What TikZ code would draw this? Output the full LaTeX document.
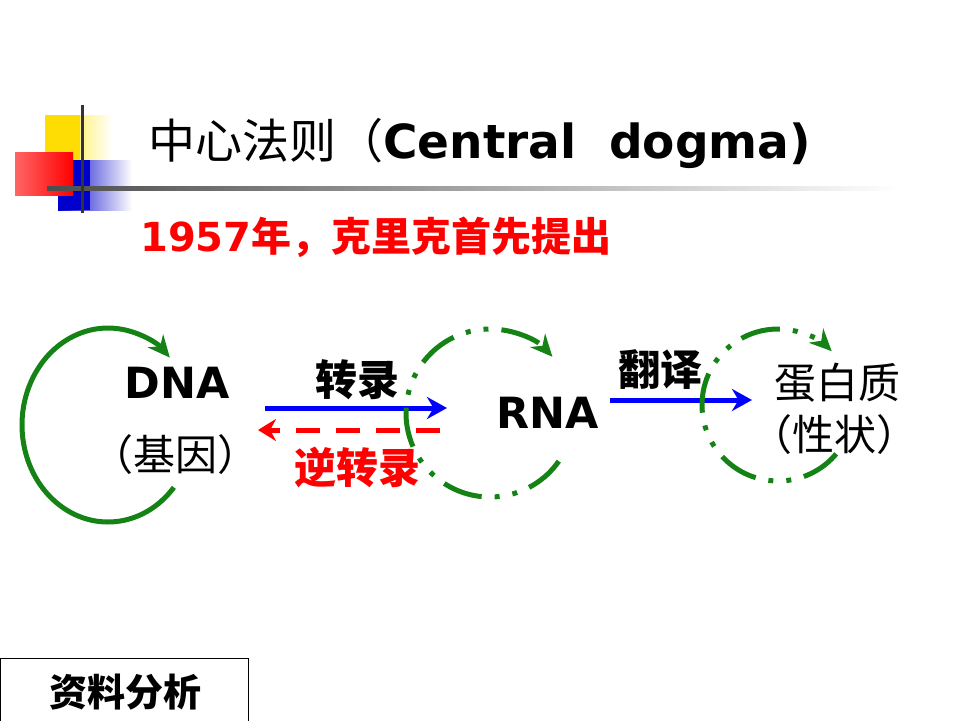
\documentclass[tikz,border=0pt]{standalone}
\usepackage{fontspec}
\setmainfont{DejaVu Sans}
\newfontfamily\cjk{Noto Sans CJK SC}
\usetikzlibrary{arrows.meta,shadings}
\definecolor{dgreen}{RGB}{20,130,20}
\begin{document}
\begin{tikzpicture}[x=1pt,y=-1pt,
  loop/.style={dgreen,line width=5pt,-{Stealth[length=22pt,width=20pt]}},
  dd/.style={loop,dash pattern=on 40pt off 13pt on 5pt off 13pt on 5pt off 13pt},
  txt/.style={font=\cjk\fontsize{42}{46}\selectfont,inner sep=0pt}]
\useasboundingbox (0,0) rectangle (960,720);
% decoration
\shade[left color=yellow!80!orange,right color=white] (45,115) rectangle (112,160);
\fill[yellow!80!orange] (45,115) rectangle (80,160);
\shade[left color=blue!80!black,right color=white] (58,160) rectangle (132,210);
\fill[blue!80!black] (58,160) rectangle (90,210);
\shade[left color=red!60!white,right color=red] (15,152) rectangle (73,195);
\shade[left color=black!70,right color=white] (47,186) rectangle (900,190);
\draw[black!80,line width=3pt] (82,105) -- (82,213);
% title
\node[anchor=west,inner sep=0pt] (title) at (148,143) {\fontsize{47}{52}\selectfont\cjk 中心法则（\textbf{\fontspec{DejaVu Sans}Central\ \ dogma)}};
\node[anchor=west,inner sep=0pt,text=red] (sub) at (140,237) {\fontsize{40}{44}\selectfont\bfseries 1957{\cjk 年，克里克首先提出}};
% labels
\node[inner sep=0pt] (dna) at (177,383) {\fontsize{43}{46}\selectfont\bfseries DNA};
\node[txt] (gene) at (175,455) {（基因）};
\node[inner sep=0pt] (rna) at (548,413) {\fontsize{43}{46}\selectfont\bfseries RNA};
\node[txt] (prot) at (837,383) {蛋白质};
\node[txt] (trait) at (834,435) {（性状）};
\node[txt] (tr) at (357,380) {\bfseries 转录};
\node[txt,text=red] (rtr) at (357,467) {\bfseries 逆转录};
\node[txt] (tl) at (660,370) {\bfseries 翻译};
% arrows
\coordinate (a1) at (265,408); \coordinate (a2) at (447,408);
\draw[blue,line width=5pt,-{Stealth[length=20pt,width=22pt]}] (a1) -- (a2);
\coordinate (b1) at (440,430); \coordinate (b2) at (258,430);
\draw[red,line width=5pt,dash pattern=on 24pt off 16pt,-{Stealth[length=18pt,width=22pt]}] (b1) -- (b2);
\coordinate (c1) at (610,400); \coordinate (c2) at (752,400);
\draw[blue,line width=5pt,-{Stealth[length=20pt,width=22pt]}] (c1) -- (c2);
% loops
\coordinate (dnaStart) at ({108+86*cos(40)},{425+97*sin(40)});
\draw[loop] (dnaStart) arc[start angle=40,end angle=316,x radius=86,y radius=97];
\draw[dd] (490,413) ++(35:84) arc[start angle=35,end angle=318,radius=84];
\draw[dd] (778,405) ++(40:76) arc[start angle=40,end angle=315,radius=76];
% box
\node[draw,line width=1pt,minimum width=248pt,minimum height=70pt,anchor=north west,inner sep=0pt] (box) at (0,658) {};
\node[txt,font=\cjk\bfseries\fontsize{38}{42}\selectfont] (boxt) at (125,692) {资料分析};
\end{tikzpicture}
\end{document}
